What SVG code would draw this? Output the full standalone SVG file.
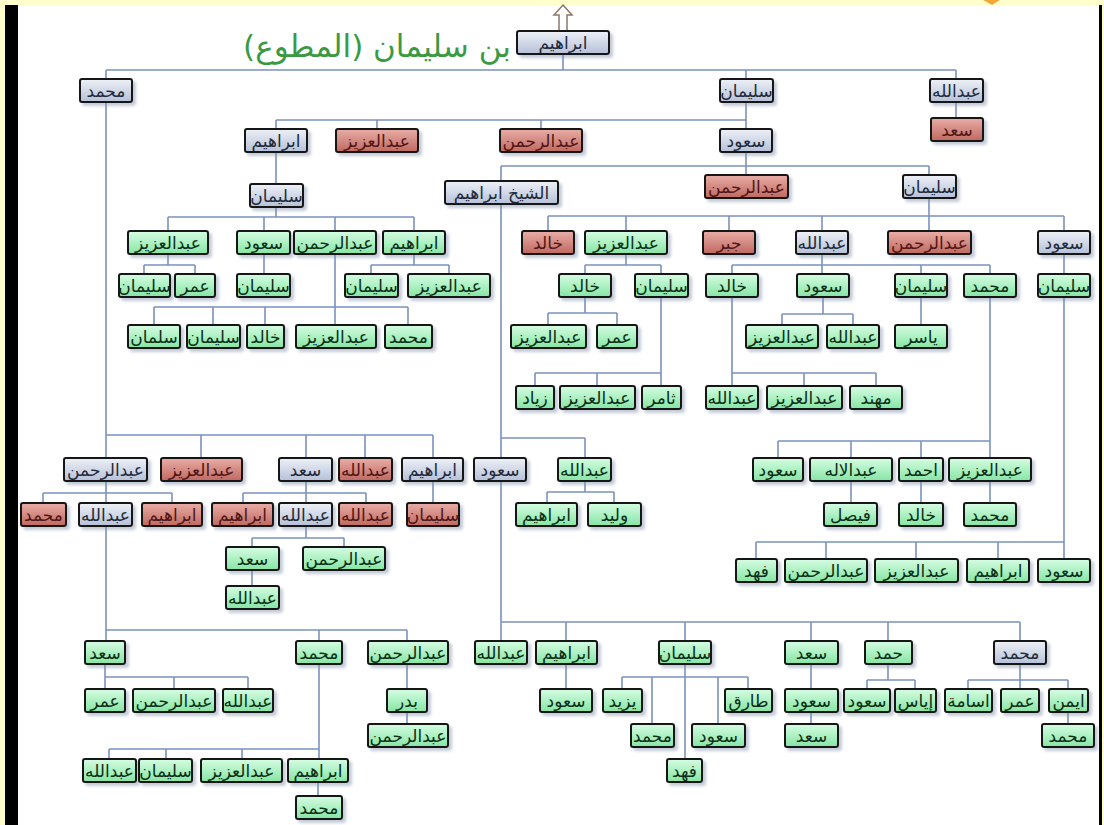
<svg xmlns="http://www.w3.org/2000/svg" width="1104" height="825" viewBox="0 0 1104 825">
<defs>
<linearGradient id="gb" x1="0" y1="0" x2="0" y2="1"><stop offset="0" stop-color="#eef1f7"/><stop offset="1" stop-color="#b5c0d7"/></linearGradient>
<linearGradient id="gg" x1="0" y1="0" x2="0" y2="1"><stop offset="0" stop-color="#d6fde3"/><stop offset="1" stop-color="#86e5a4"/></linearGradient>
<linearGradient id="gr" x1="0" y1="0" x2="0" y2="1"><stop offset="0" stop-color="#e9aea6"/><stop offset="1" stop-color="#bf6860"/></linearGradient>
<filter id="sh" x="-20%" y="-30%" width="150%" height="180%"><feDropShadow dx="3" dy="3" stdDeviation="1.5" flood-color="#7d8ca6" flood-opacity="0.45"/></filter>
<style>
.node rect{stroke:#151515;stroke-width:2;filter:url(#sh)}
.b rect{fill:url(#gb)}
.g rect{fill:url(#gg)}
.r rect{fill:url(#gr)}
.node text{font-family:"DejaVu Sans",sans-serif;font-size:17px;text-anchor:middle;dominant-baseline:central}
.b text{fill:#222a3a}
.g text{fill:#0b2e15}
.r text{fill:#501616}
#connectors path{fill:none;stroke:#7b92bf;stroke-width:1.6}
</style>
</defs>
<rect x="0" y="0" width="1104" height="825" fill="#ffffcc"/>
<rect x="18" y="5" width="1082" height="820" fill="#ffffff"/>
<rect x="5" y="5" width="13" height="820" fill="#000000"/>
<rect x="1099" y="5" width="3" height="820" fill="#000000"/>
<polygon points="983,0 1000,0 992,5" fill="#f2a838"/>
<text x="377" y="57" font-family="DejaVu Sans, sans-serif" font-size="31" fill="#3a9a44" text-anchor="middle">بن سليمان (المطوع)</text>
<polygon points="563,5 572,15 567,15 567,31 559,31 559,15 554,15" fill="#ffffff" stroke="#8a7868" stroke-width="1.5"/>
<g id="connectors">
<path d="M563 53V70M106 70H956M106 70V79M746 70V79M956 70V79M956 101V118"/>
<path d="M746 102V120M276 120H746M276 120V129M377 120V129M541 120V129M746 120V129"/>
<path d="M746 152V166M501 166H929M501 166V181M746 166V175M929 166V175"/>
<path d="M929 198V216M548 216H1064M548 216V231M626 216V231M729 216V231M822 216V231M929 216V231M1064 216V231"/>
<path d="M626 254V265M585 265H661M585 265V274M661 265V274"/>
<path d="M585 297V313M548 313H617M548 313V325M617 313V325"/>
<path d="M661 297V373M535 373H661M535 373V386M597 373V386M661 373V386"/>
<path d="M822 254V265M732 265H990M732 265V274M822 265V274M921 265V274M990 265V274"/>
<path d="M732 297V386M732 373H876M804 373V386M876 373V386"/>
<path d="M823 297V314M782 314H853M782 314V325M853 314V325M921 297V325"/>
<path d="M990 297V458M778 441H990M778 441V458M851 441V458M921 441V458M851 481V503M921 481V503M990 481V503"/>
<path d="M1064 254V274M1064 297V542M756 542H1064M756 542V559M826 542V559M916 542V559M998 542V559M1064 542V559"/>
<path d="M501 204V458M501 438H585M585 438V458M585 481V492M547 492H614M547 492V503M614 492V503"/>
<path d="M501 481V641M501 622H1020M566 622V641M685 622V641M811 622V641M888 622V641M1020 622V641"/>
<path d="M566 664V689M685 664V759M622 677H748M622 677V689M652 677V724M718 677V724M748 677V689"/>
<path d="M811 664V689M811 712V724M888 664V680M867 680H915M867 680V689M915 680V689"/>
<path d="M1020 664V689M968 680H1068M968 680V689M1068 680V689M1068 712V724"/>
<path d="M276 152V184M276 207V217M168 217H414M168 217V231M264 217V231M335 217V231M414 217V231"/>
<path d="M168 254V265M144 265H195M144 265V274M195 265V274M264 254V274M414 254V265M371 265H449M371 265V274M449 265V274"/>
<path d="M335 254V325M154 307H408M154 307V325M213 307V325M265 307V325M408 307V325"/>
<path d="M106 102V458M106 435H433M201 435V458M306 435V458M365 435V458M433 435V458M433 481V503"/>
<path d="M106 481V641M43 493H172M43 493V503M172 493V503M106 630H407M319 630V641M407 630V641"/>
<path d="M306 481V538M243 493H366M243 493V503M366 493V503M252 538H344M252 538V547M344 538V547M252 570V586"/>
<path d="M105 664V689M105 677H248M174 677V689M248 677V689"/>
<path d="M319 664V759M109 749H319M109 749V759M166 749V759M242 749V759M318 782V796M407 664V689M407 712V724"/>
</g>
<g id="n1" class="node b"><rect x="517" y="31" width="92" height="23" rx="2"/><text x="563" y="42.5">ابراهيم</text></g>
<g id="n2" class="node b"><rect x="80" y="79" width="52" height="23" rx="2"/><text x="106" y="90.5">محمد</text></g>
<g id="n3" class="node b"><rect x="720" y="79" width="53" height="23" rx="2"/><text x="746.5" y="90.5">سليمان</text></g>
<g id="n4" class="node b"><rect x="930" y="79" width="53" height="23" rx="2"/><text x="956.5" y="90.5">عبدالله</text></g>
<g id="n5" class="node r"><rect x="931" y="118" width="52" height="23" rx="2"/><text x="957" y="129.5">سعد</text></g>
<g id="n6" class="node b"><rect x="245" y="129" width="62" height="23" rx="2"/><text x="276" y="140.5">ابراهيم</text></g>
<g id="n7" class="node r"><rect x="336" y="129" width="82" height="23" rx="2"/><text x="377" y="140.5">عبدالعزيز</text></g>
<g id="n8" class="node r"><rect x="500" y="129" width="82" height="23" rx="2"/><text x="541" y="140.5">عبدالرحمن</text></g>
<g id="n9" class="node b"><rect x="720" y="129" width="52" height="23" rx="2"/><text x="746" y="140.5">سعود</text></g>
<g id="n10" class="node r"><rect x="705" y="175" width="83" height="23" rx="2"/><text x="746.5" y="186.5">عبدالرحمن</text></g>
<g id="n11" class="node b"><rect x="903" y="175" width="53" height="23" rx="2"/><text x="929.5" y="186.5">سليمان</text></g>
<g id="n12" class="node b"><rect x="445" y="181" width="113" height="23" rx="2"/><text x="501.5" y="192.5">الشيخ ابراهيم</text></g>
<g id="n13" class="node b"><rect x="250" y="184" width="53" height="23" rx="2"/><text x="276.5" y="195.5">سليمان</text></g>
<g id="n14" class="node g"><rect x="128" y="231" width="80" height="23" rx="2"/><text x="168" y="242.5">عبدالعزيز</text></g>
<g id="n15" class="node g"><rect x="237" y="231" width="53" height="23" rx="2"/><text x="263.5" y="242.5">سعود</text></g>
<g id="n16" class="node g"><rect x="294" y="231" width="82" height="23" rx="2"/><text x="335" y="242.5">عبدالرحمن</text></g>
<g id="n17" class="node g"><rect x="383" y="231" width="62" height="23" rx="2"/><text x="414" y="242.5">ابراهيم</text></g>
<g id="n18" class="node r"><rect x="522" y="231" width="52" height="23" rx="2"/><text x="548" y="242.5">خالد</text></g>
<g id="n19" class="node g"><rect x="585" y="231" width="82" height="23" rx="2"/><text x="626" y="242.5">عبدالعزيز</text></g>
<g id="n20" class="node r"><rect x="703" y="231" width="52" height="23" rx="2"/><text x="729" y="242.5">جبر</text></g>
<g id="n21" class="node b"><rect x="796" y="231" width="52" height="23" rx="2"/><text x="822" y="242.5">عبدالله</text></g>
<g id="n22" class="node r"><rect x="888" y="231" width="83" height="23" rx="2"/><text x="929.5" y="242.5">عبدالرحمن</text></g>
<g id="n23" class="node b"><rect x="1038" y="231" width="52" height="23" rx="2"/><text x="1064" y="242.5">سعود</text></g>
<g id="n24" class="node g"><rect x="119" y="274" width="51" height="23" rx="2"/><text x="144.5" y="285.5">سليمان</text></g>
<g id="n25" class="node g"><rect x="175" y="274" width="40" height="23" rx="2"/><text x="195" y="285.5">عمر</text></g>
<g id="n26" class="node g"><rect x="237" y="274" width="53" height="23" rx="2"/><text x="263.5" y="285.5">سليمان</text></g>
<g id="n27" class="node g"><rect x="345" y="274" width="53" height="23" rx="2"/><text x="371.5" y="285.5">سليمان</text></g>
<g id="n28" class="node g"><rect x="408" y="274" width="82" height="23" rx="2"/><text x="449" y="285.5">عبدالعزيز</text></g>
<g id="n29" class="node g"><rect x="559" y="274" width="52" height="23" rx="2"/><text x="585" y="285.5">خالد</text></g>
<g id="n30" class="node g"><rect x="635" y="274" width="53" height="23" rx="2"/><text x="661.5" y="285.5">سليمان</text></g>
<g id="n31" class="node g"><rect x="706" y="274" width="52" height="23" rx="2"/><text x="732" y="285.5">خالد</text></g>
<g id="n32" class="node g"><rect x="797" y="274" width="52" height="23" rx="2"/><text x="823" y="285.5">سعود</text></g>
<g id="n33" class="node g"><rect x="895" y="274" width="52" height="23" rx="2"/><text x="921" y="285.5">سليمان</text></g>
<g id="n34" class="node g"><rect x="964" y="274" width="52" height="23" rx="2"/><text x="990" y="285.5">محمد</text></g>
<g id="n35" class="node g"><rect x="1038" y="274" width="52" height="23" rx="2"/><text x="1064" y="285.5">سليمان</text></g>
<g id="n36" class="node g"><rect x="128" y="325" width="52" height="23" rx="2"/><text x="154" y="336.5">سلمان</text></g>
<g id="n37" class="node g"><rect x="187" y="325" width="53" height="23" rx="2"/><text x="213.5" y="336.5">سليمان</text></g>
<g id="n38" class="node g"><rect x="247" y="325" width="37" height="23" rx="2"/><text x="265.5" y="336.5">خالد</text></g>
<g id="n39" class="node g"><rect x="296" y="325" width="80" height="23" rx="2"/><text x="336" y="336.5">عبدالعزيز</text></g>
<g id="n40" class="node g"><rect x="385" y="325" width="47" height="23" rx="2"/><text x="408.5" y="336.5">محمد</text></g>
<g id="n41" class="node g"><rect x="511" y="325" width="75" height="23" rx="2"/><text x="548.5" y="336.5">عبدالعزيز</text></g>
<g id="n42" class="node g"><rect x="597" y="325" width="40" height="23" rx="2"/><text x="617" y="336.5">عمر</text></g>
<g id="n43" class="node g"><rect x="746" y="325" width="72" height="23" rx="2"/><text x="782" y="336.5">عبدالعزيز</text></g>
<g id="n44" class="node g"><rect x="827" y="325" width="52" height="23" rx="2"/><text x="853" y="336.5">عبدالله</text></g>
<g id="n45" class="node g"><rect x="895" y="325" width="52" height="23" rx="2"/><text x="921" y="336.5">ياسر</text></g>
<g id="n46" class="node g"><rect x="516" y="386" width="38" height="23" rx="2"/><text x="535" y="397.5">زياد</text></g>
<g id="n47" class="node g"><rect x="560" y="386" width="75" height="23" rx="2"/><text x="597.5" y="397.5">عبدالعزيز</text></g>
<g id="n48" class="node g"><rect x="642" y="386" width="39" height="23" rx="2"/><text x="661.5" y="397.5">ثامر</text></g>
<g id="n49" class="node g"><rect x="706" y="386" width="52" height="23" rx="2"/><text x="732" y="397.5">عبدالله</text></g>
<g id="n50" class="node g"><rect x="767" y="386" width="75" height="23" rx="2"/><text x="804.5" y="397.5">عبدالعزيز</text></g>
<g id="n51" class="node g"><rect x="850" y="386" width="52" height="23" rx="2"/><text x="876" y="397.5">مهند</text></g>
<g id="n52" class="node b"><rect x="64" y="458" width="83" height="23" rx="2"/><text x="105.5" y="469.5">عبدالرحمن</text></g>
<g id="n53" class="node r"><rect x="161" y="458" width="81" height="23" rx="2"/><text x="201.5" y="469.5">عبدالعزيز</text></g>
<g id="n54" class="node b"><rect x="279" y="458" width="53" height="23" rx="2"/><text x="305.5" y="469.5">سعد</text></g>
<g id="n55" class="node r"><rect x="339" y="458" width="53" height="23" rx="2"/><text x="365.5" y="469.5">عبدالله</text></g>
<g id="n56" class="node b"><rect x="402" y="458" width="61" height="23" rx="2"/><text x="432.5" y="469.5">ابراهيم</text></g>
<g id="n57" class="node b"><rect x="474" y="458" width="52" height="23" rx="2"/><text x="500" y="469.5">سعود</text></g>
<g id="n58" class="node g"><rect x="558" y="458" width="53" height="23" rx="2"/><text x="584.5" y="469.5">عبدالله</text></g>
<g id="n59" class="node g"><rect x="753" y="458" width="50" height="23" rx="2"/><text x="778" y="469.5">سعود</text></g>
<g id="n60" class="node g"><rect x="810" y="458" width="82" height="23" rx="2"/><text x="851" y="469.5">عبدالاله</text></g>
<g id="n61" class="node g"><rect x="899" y="458" width="44" height="23" rx="2"/><text x="921" y="469.5">احمد</text></g>
<g id="n62" class="node g"><rect x="949" y="458" width="82" height="23" rx="2"/><text x="990" y="469.5">عبدالعزيز</text></g>
<g id="n63" class="node r"><rect x="21" y="503" width="45" height="23" rx="2"/><text x="43.5" y="514.5">محمد</text></g>
<g id="n64" class="node b"><rect x="79" y="503" width="53" height="23" rx="2"/><text x="105.5" y="514.5">عبدالله</text></g>
<g id="n65" class="node r"><rect x="142" y="503" width="60" height="23" rx="2"/><text x="172" y="514.5">ابراهيم</text></g>
<g id="n66" class="node r"><rect x="212" y="503" width="61" height="23" rx="2"/><text x="242.5" y="514.5">ابراهيم</text></g>
<g id="n67" class="node b"><rect x="279" y="503" width="53" height="23" rx="2"/><text x="305.5" y="514.5">عبدالله</text></g>
<g id="n68" class="node r"><rect x="339" y="503" width="53" height="23" rx="2"/><text x="365.5" y="514.5">عبدالله</text></g>
<g id="n69" class="node r"><rect x="407" y="503" width="52" height="23" rx="2"/><text x="433" y="514.5">سليمان</text></g>
<g id="n70" class="node g"><rect x="516" y="503" width="61" height="23" rx="2"/><text x="546.5" y="514.5">ابراهيم</text></g>
<g id="n71" class="node g"><rect x="588" y="503" width="53" height="23" rx="2"/><text x="614.5" y="514.5">وليد</text></g>
<g id="n72" class="node g"><rect x="824" y="503" width="53" height="23" rx="2"/><text x="850.5" y="514.5">فيصل</text></g>
<g id="n73" class="node g"><rect x="899" y="503" width="44" height="23" rx="2"/><text x="921" y="514.5">خالد</text></g>
<g id="n74" class="node g"><rect x="964" y="503" width="52" height="23" rx="2"/><text x="990" y="514.5">محمد</text></g>
<g id="n75" class="node g"><rect x="226" y="547" width="53" height="23" rx="2"/><text x="252.5" y="558.5">سعد</text></g>
<g id="n76" class="node g"><rect x="303" y="547" width="82" height="23" rx="2"/><text x="344" y="558.5">عبدالرحمن</text></g>
<g id="n77" class="node g"><rect x="736" y="559" width="41" height="23" rx="2"/><text x="756.5" y="570.5">فهد</text></g>
<g id="n78" class="node g"><rect x="785" y="559" width="82" height="23" rx="2"/><text x="826" y="570.5">عبدالرحمن</text></g>
<g id="n79" class="node g"><rect x="875" y="559" width="83" height="23" rx="2"/><text x="916.5" y="570.5">عبدالعزيز</text></g>
<g id="n80" class="node g"><rect x="967" y="559" width="62" height="23" rx="2"/><text x="998" y="570.5">ابراهيم</text></g>
<g id="n81" class="node g"><rect x="1038" y="559" width="52" height="23" rx="2"/><text x="1064" y="570.5">سعود</text></g>
<g id="n82" class="node g"><rect x="226" y="586" width="53" height="23" rx="2"/><text x="252.5" y="597.5">عبدالله</text></g>
<g id="n83" class="node g"><rect x="85" y="641" width="40" height="23" rx="2"/><text x="105" y="652.5">سعد</text></g>
<g id="n84" class="node g"><rect x="296" y="641" width="46" height="23" rx="2"/><text x="319" y="652.5">محمد</text></g>
<g id="n85" class="node g"><rect x="368" y="641" width="80" height="23" rx="2"/><text x="408" y="652.5">عبدالرحمن</text></g>
<g id="n86" class="node g"><rect x="475" y="641" width="52" height="23" rx="2"/><text x="501" y="652.5">عبدالله</text></g>
<g id="n87" class="node g"><rect x="536" y="641" width="61" height="23" rx="2"/><text x="566.5" y="652.5">ابراهيم</text></g>
<g id="n88" class="node g"><rect x="659" y="641" width="52" height="23" rx="2"/><text x="685" y="652.5">سليمان</text></g>
<g id="n89" class="node g"><rect x="785" y="641" width="53" height="23" rx="2"/><text x="811.5" y="652.5">سعد</text></g>
<g id="n90" class="node g"><rect x="865" y="641" width="47" height="23" rx="2"/><text x="888.5" y="652.5">حمد</text></g>
<g id="n91" class="node b"><rect x="994" y="641" width="52" height="23" rx="2"/><text x="1020" y="652.5">محمد</text></g>
<g id="n92" class="node g"><rect x="85" y="689" width="40" height="23" rx="2"/><text x="105" y="700.5">عمر</text></g>
<g id="n93" class="node g"><rect x="133" y="689" width="82" height="23" rx="2"/><text x="174" y="700.5">عبدالرحمن</text></g>
<g id="n94" class="node g"><rect x="223" y="689" width="50" height="23" rx="2"/><text x="248" y="700.5">عبدالله</text></g>
<g id="n95" class="node g"><rect x="387" y="689" width="40" height="23" rx="2"/><text x="407" y="700.5">بدر</text></g>
<g id="n96" class="node g"><rect x="540" y="689" width="52" height="23" rx="2"/><text x="566" y="700.5">سعود</text></g>
<g id="n97" class="node g"><rect x="603" y="689" width="39" height="23" rx="2"/><text x="622.5" y="700.5">يزيد</text></g>
<g id="n98" class="node g"><rect x="725" y="689" width="47" height="23" rx="2"/><text x="748.5" y="700.5">طارق</text></g>
<g id="n99" class="node g"><rect x="785" y="689" width="53" height="23" rx="2"/><text x="811.5" y="700.5">سعود</text></g>
<g id="n100" class="node g"><rect x="844" y="689" width="46" height="23" rx="2"/><text x="867" y="700.5">سعود</text></g>
<g id="n101" class="node g"><rect x="895" y="689" width="41" height="23" rx="2"/><text x="915.5" y="700.5">إياس</text></g>
<g id="n102" class="node g"><rect x="945" y="689" width="47" height="23" rx="2"/><text x="968.5" y="700.5">اسامة</text></g>
<g id="n103" class="node g"><rect x="1001" y="689" width="38" height="23" rx="2"/><text x="1020" y="700.5">عمر</text></g>
<g id="n104" class="node g"><rect x="1049" y="689" width="39" height="23" rx="2"/><text x="1068.5" y="700.5">ايمن</text></g>
<g id="n105" class="node g"><rect x="368" y="724" width="80" height="23" rx="2"/><text x="408" y="735.5">عبدالرحمن</text></g>
<g id="n106" class="node g"><rect x="631" y="724" width="43" height="23" rx="2"/><text x="652.5" y="735.5">محمد</text></g>
<g id="n107" class="node g"><rect x="692" y="724" width="53" height="23" rx="2"/><text x="718.5" y="735.5">سعود</text></g>
<g id="n108" class="node g"><rect x="785" y="724" width="53" height="23" rx="2"/><text x="811.5" y="735.5">سعد</text></g>
<g id="n109" class="node g"><rect x="1042" y="724" width="52" height="23" rx="2"/><text x="1068" y="735.5">محمد</text></g>
<g id="n110" class="node g"><rect x="83" y="759" width="53" height="23" rx="2"/><text x="109.5" y="770.5">عبدالله</text></g>
<g id="n111" class="node g"><rect x="139" y="759" width="53" height="23" rx="2"/><text x="165.5" y="770.5">سليمان</text></g>
<g id="n112" class="node g"><rect x="201" y="759" width="81" height="23" rx="2"/><text x="241.5" y="770.5">عبدالعزيز</text></g>
<g id="n113" class="node g"><rect x="288" y="759" width="60" height="23" rx="2"/><text x="318" y="770.5">ابراهيم</text></g>
<g id="n114" class="node g"><rect x="667" y="759" width="35" height="23" rx="2"/><text x="684.5" y="770.5">فهد</text></g>
<g id="n115" class="node g"><rect x="296" y="796" width="46" height="23" rx="2"/><text x="319" y="807.5">محمد</text></g>
</svg>
